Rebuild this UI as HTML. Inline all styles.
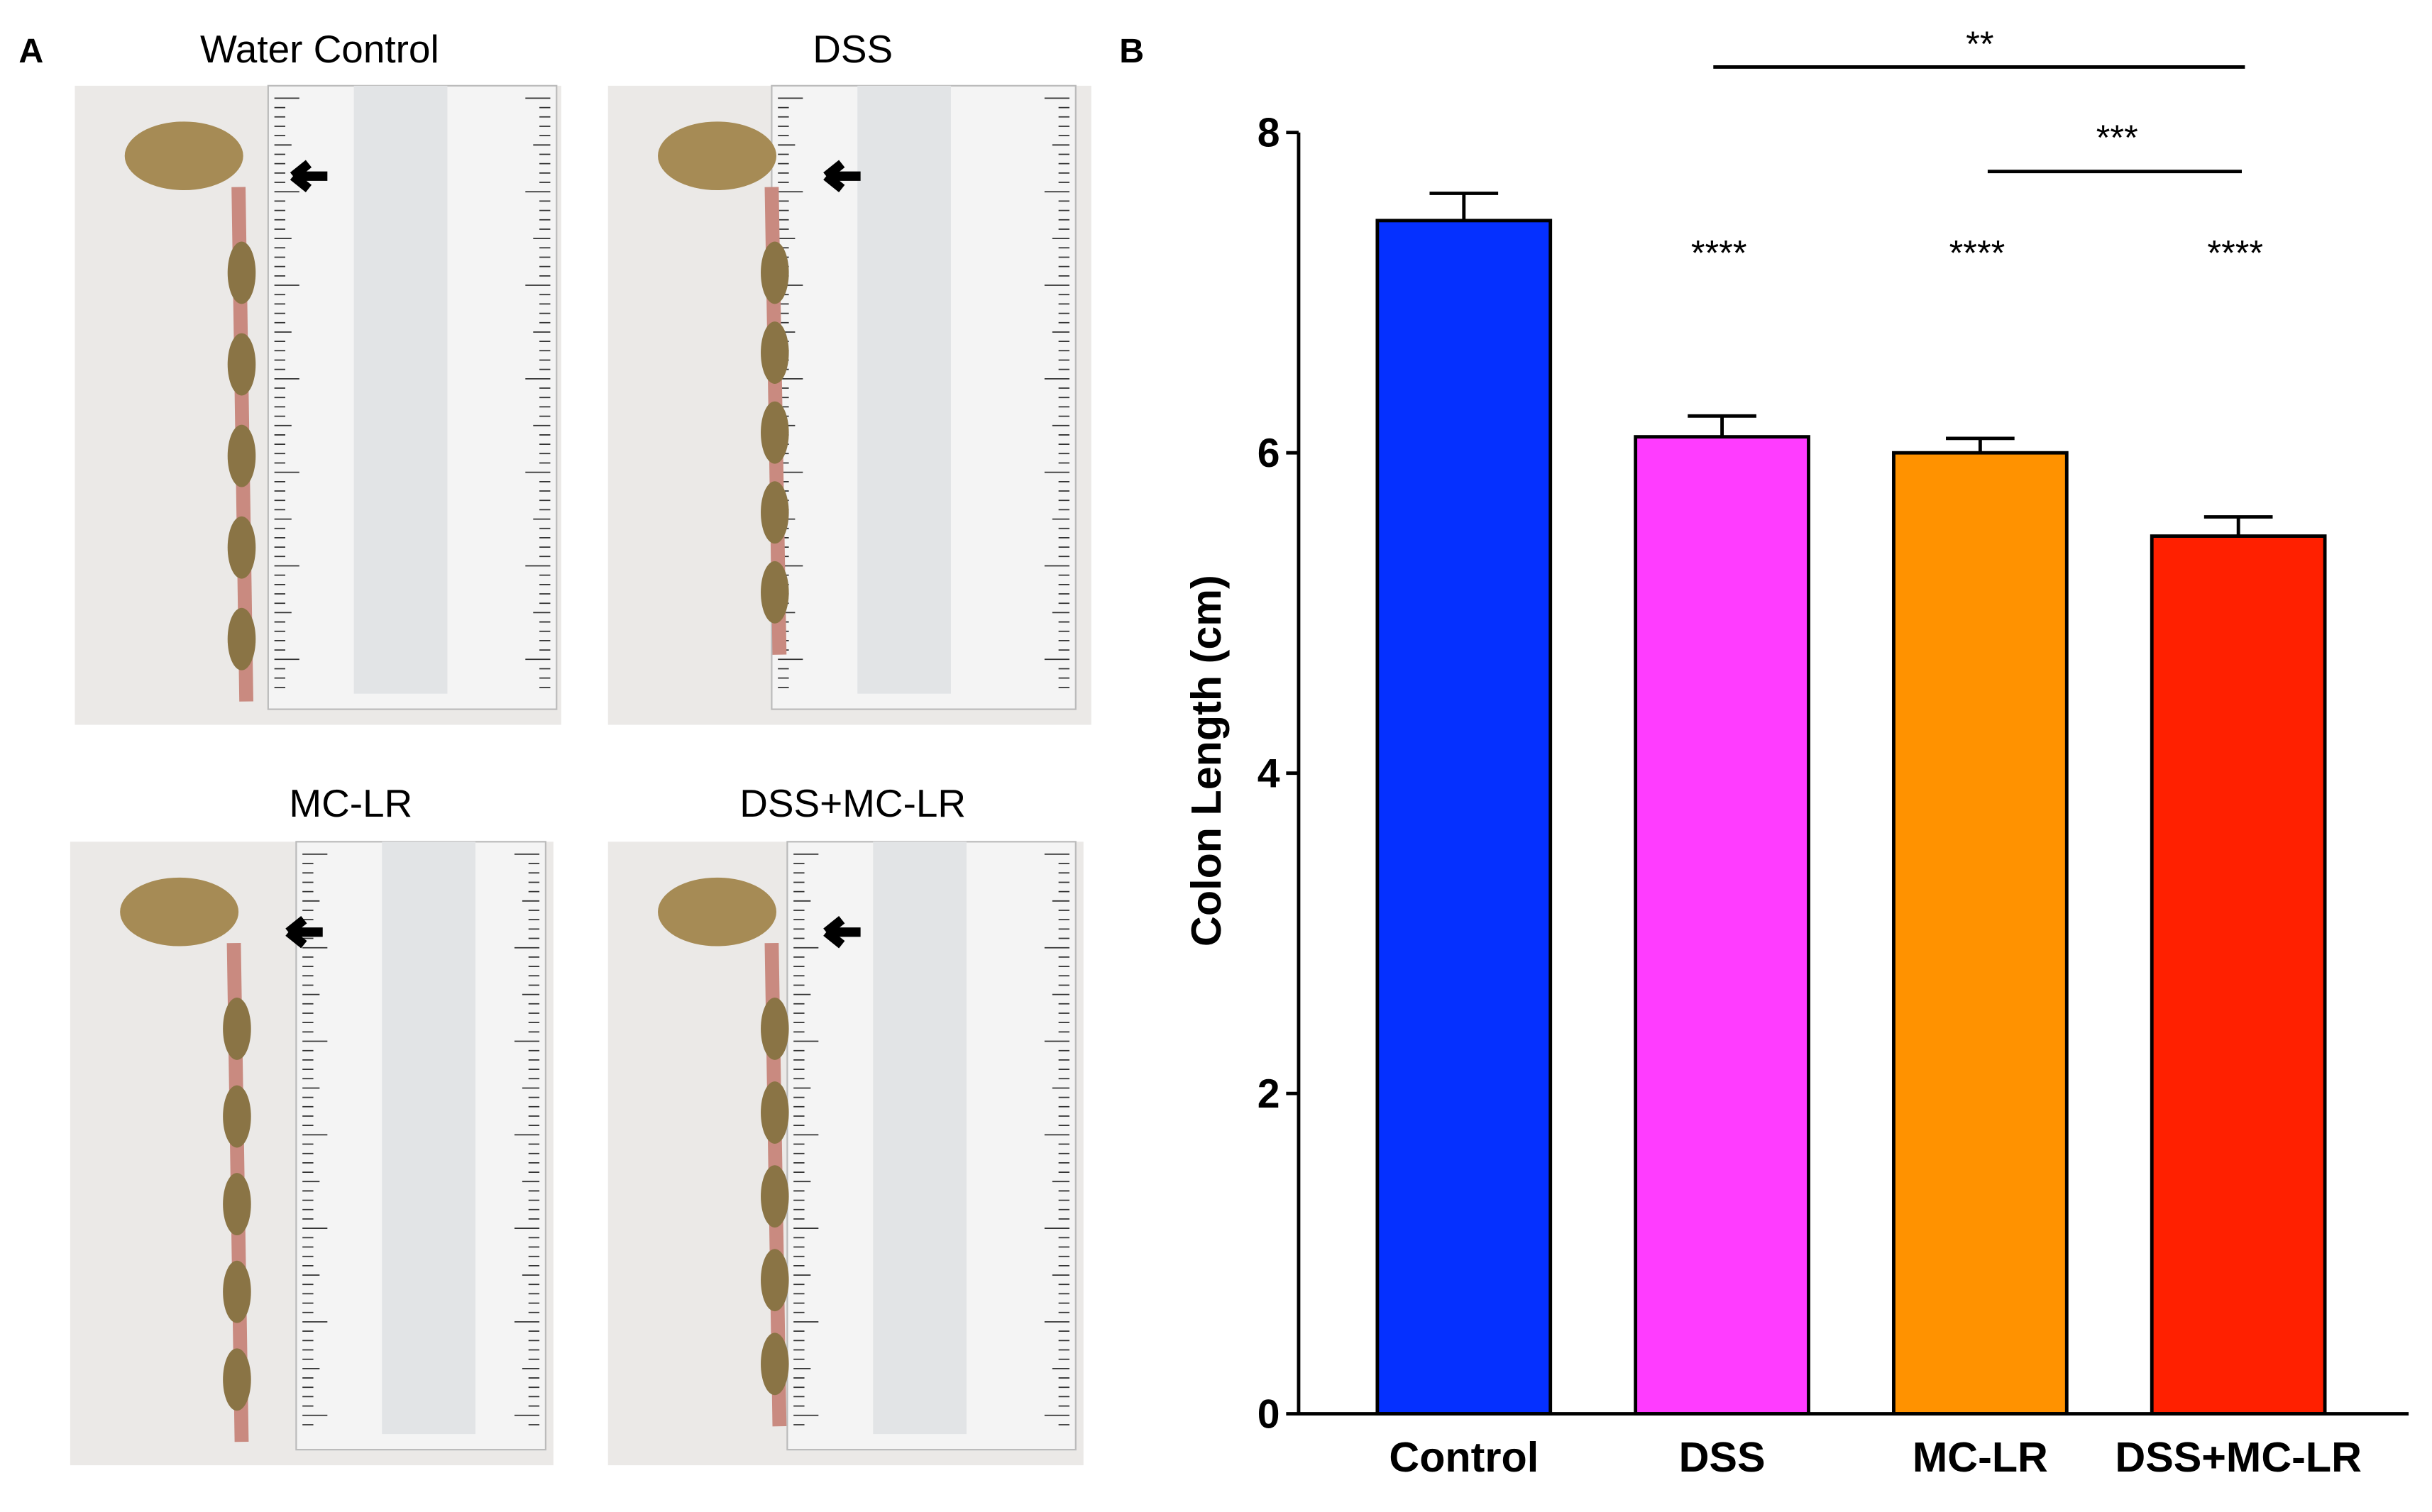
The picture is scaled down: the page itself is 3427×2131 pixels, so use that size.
<!DOCTYPE html>
<html><head><meta charset="utf-8"><style>
html,body{margin:0;padding:0;background:#fff;}
svg{display:block;font-family:"Liberation Sans",Arial,sans-serif;}
</style></head><body>
<svg id="fig" width="3427" height="2131" viewBox="0 0 1560 970" preserveAspectRatio="none" xmlns="http://www.w3.org/2000/svg">
<g>
<text x="12" y="40" font-size="22" font-weight="bold">A</text>
<text x="205" y="40" font-size="25" text-anchor="middle">Water Control</text>
<text x="547" y="40" font-size="25" text-anchor="middle">DSS</text>
<text x="225" y="524" font-size="25" text-anchor="middle">MC-LR</text>
<text x="547" y="524" font-size="25" text-anchor="middle">DSS+MC-LR</text>
<g id="photos"></g>
</g>
<g>
<text x="718" y="40" font-size="22" font-weight="bold">B</text>
<g id="chart"></g>
</g>
</svg>
<script>
const categories = ["Control","DSS","MC-LR","DSS+MC-LR"];
const means = [7.45, 6.10, 6.00, 5.48];
const errors = [0.17, 0.13, 0.09, 0.12];
const barColors = ["#0530ff","#ff3cff","#ff9200","#ff2000"];
const yTicks = [0,2,4,6,8];
const starLabels = ["", "****", "****", "****"];
const NS="http://www.w3.org/2000/svg";
function mk(tag, attrs, parent){const e=document.createElementNS(NS,tag);for(const k in attrs)e.setAttribute(k,attrs[k]);parent.appendChild(e);return e;}
const chart=document.getElementById('chart');
const X0=833, X1=1545, Y0=907, Y8=85, YMAX=8;
const yScale=v=>Y0-(v/YMAX)*(Y0-Y8);
const xCenter=i=>939+i*165.6;
const barW=111;
categories.forEach((c,i)=>{
  const cx=xCenter(i);
  const r=mk('rect',{x:cx-barW/2,y:yScale(means[i]),width:barW,height:Y0-yScale(means[i]),fill:barColors[i],stroke:'#000','stroke-width':2.2},chart);
  
  
  const top=yScale(means[i]+errors[i]);
  const e=mk('path',{d:`M${cx},${yScale(means[i])}V${top}M${cx-22},${top}H${cx+22}`,stroke:'#000','stroke-width':2.2,fill:'none'},chart);
  
  
  const t=mk('text',{x:cx,y:944,'font-size':27,'font-weight':'bold','text-anchor':'middle'},chart);
  t.textContent=c;
  
  
  if(starLabels[i]){
    const s=mk('text',{x:cx-2,y:170,'font-size':23,'text-anchor':'middle'},chart);
    s.textContent=starLabels[i];
    
    
  }
});
const ax=mk('path',{d:`M${X0},${Y8}V${Y0}H${X1}`,stroke:'#000','stroke-width':2.2,fill:'none'},chart);


yTicks.forEach(v=>{
  const y=yScale(v);
  mk('line',{x1:X0-8,x2:X0,y1:y,y2:y,stroke:'#000','stroke-width':2.2},chart);
  const t=mk('text',{x:X0-12,y:y+9,'font-size':26,'font-weight':'bold','text-anchor':'end'},chart);
  t.textContent=v;
  
  
});
const yt=mk('text',{x:0,y:0,'font-size':27,'font-weight':'bold','text-anchor':'middle',transform:`translate(783,488) rotate(-90)`},chart);
yt.textContent='Colon Length (cm)';


const l1=mk('line',{x1:1099,x2:1440,y1:43,y2:43,stroke:'#000','stroke-width':2.2},chart);


const s1=mk('text',{x:1270,y:36,'font-size':23,'text-anchor':'middle'},chart);s1.textContent='**';


const l2=mk('line',{x1:1275,x2:1438,y1:110,y2:110,stroke:'#000','stroke-width':2.2},chart);


const s2=mk('text',{x:1358,y:96,'font-size':23,'text-anchor':'middle'},chart);s2.textContent='***';



const photos=document.getElementById('photos');
const panels=[
 {x:48,y:55,w:312,h:410,rx:172,rw:185,name:'photo-water-control',len:355},
 {x:390,y:55,w:310,h:410,rx:495,rw:195,name:'photo-dss',len:325},
 {x:45,y:540,w:310,h:400,rx:190,rw:160,name:'photo-mc-lr',len:345},
 {x:390,y:540,w:305,h:400,rx:505,rw:185,name:'photo-dss-mc-lr',len:335}
];
panels.forEach(p=>{
  const g=mk('g',{},photos);
  
  
  mk('rect',{x:p.x,y:p.y,width:p.w,height:p.h,fill:'#ebe9e7'},g);
  mk('rect',{x:p.rx,y:p.y,width:p.rw,height:p.h-10,fill:'#f4f4f4',stroke:'#bbb','stroke-width':1},g);
  mk('rect',{x:p.rx+55,y:p.y,width:60,height:p.h-20,fill:'#e2e4e6'},g);
  let d='';
  for(let k=0;k<(p.h-30)/6;k++){const y=p.y+8+k*6;const L=k%10==0?16:(k%5==0?11:7);d+=`M${p.rx+4},${y}h${L}`;d+=`M${p.rx+p.rw-4},${y}h${-L}`;}
  mk('path',{d:d,stroke:'#333','stroke-width':0.8,fill:'none'},g);
  const cx=p.x+60, cy=p.y+40;
  mk('ellipse',{cx:cx+10,cy:cy+5,rx:38,ry:22,fill:'#a68b55'},g);
  mk('path',{d:`M${cx+45},${cy+25} L${cx+50},${cy+p.len}`,stroke:'#c98a80','stroke-width':9,fill:'none'},g);
  for(let k=0;k<5;k++) mk('ellipse',{cx:cx+47,cy:cy+80+k*(p.len-120)/4,rx:9,ry:20,fill:'#8a7445'},g);
  mk('path',{d:`M${cx+80},${cy+18}h22M${cx+80},${cy+18}l10,-8M${cx+80},${cy+18}l10,8`,stroke:'#000','stroke-width':6,fill:'none'},g);
});
</script>
</body></html>
